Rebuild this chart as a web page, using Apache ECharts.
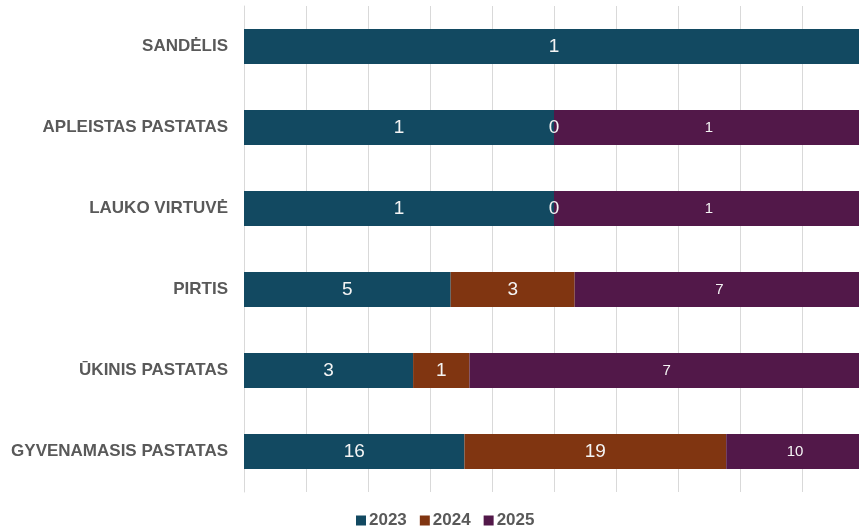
<!DOCTYPE html>
<html><head><meta charset="utf-8">
<script src="https://cdn.jsdelivr.net/npm/echarts@6/dist/echarts.min.js"></script>
<style>html,body{margin:0;padding:0;background:#fff;overflow:hidden}#c{width:864px;height:529px}</style>
</head><body><div id="c"></div>
<script>
const categories = ['SANDĖLIS','APLEISTAS PASTATAS','LAUKO VIRTUVĖ','PIRTIS','ŪKINIS PASTATAS','GYVENAMASIS PASTATAS'];
const years = ['2023','2024','2025'];
const v2023 = [1, 1, 1, 5, 3, 16];
const v2024 = [null, 0, 0, 3, 1, 19];
const v2025 = [null, 1, 1, 7, 7, 10];
const colors = ['#124961','#803511','#521849'];

const raw = [v2023, v2024, v2025];
const totals = categories.map((_, i) => raw.reduce((s, a) => s + (a[i] || 0), 0));
const series = raw.map((arr, k) => ({
  name: years[k],
  type: 'bar',
  stack: 'all',
  barWidth: 35,
  itemStyle: { color: colors[k] },
  label: {
    show: true,
    position: 'inside',
    color: '#f4f4f4',
    fontFamily: 'Liberation Sans, Arial, sans-serif',
    fontSize: k === 2 ? 15 : 19,
    formatter: p => raw[k][p.dataIndex] == null ? '' : String(raw[k][p.dataIndex])
  },
  data: arr.map((v, i) => v == null ? null : v / totals[i] * 100)
}));

const chart = echarts.init(document.getElementById('c'), null, { renderer: 'canvas' });
chart.setOption({
  animation: false,
  backgroundColor: '#ffffff',
  grid: { left: 244, right: 0, top: 6, bottom: 37 },
  legend: {
    data: years,
    left: 356,
    bottom: 0,
    padding: 0,
    itemWidth: 10,
    itemHeight: 10,
    itemGap: 13,
    icon: 'rect',
    textStyle: { color: '#595959', fontSize: 17, fontWeight: 'bold', fontFamily: 'Liberation Sans, Arial, sans-serif', padding: [0,0,0,-2] }
  },
  xAxis: {
    type: 'value', min: 0, max: 100, interval: 10,
    axisLabel: { show: false },
    axisLine: { show: false },
    axisTick: { show: false },
    splitLine: { show: true, lineStyle: { color: '#d9d9d9', width: 1 } }
  },
  yAxis: {
    type: 'category', data: categories, inverse: true,
    axisLine: { show: true, lineStyle: { color: '#d9d9d9' } },
    axisTick: { show: false },
    axisLabel: { color: '#595959', fontSize: 17, fontWeight: 'bold', fontFamily: 'Liberation Sans, Arial, sans-serif', margin: 16 }
  },
  series
});
</script></body></html>
